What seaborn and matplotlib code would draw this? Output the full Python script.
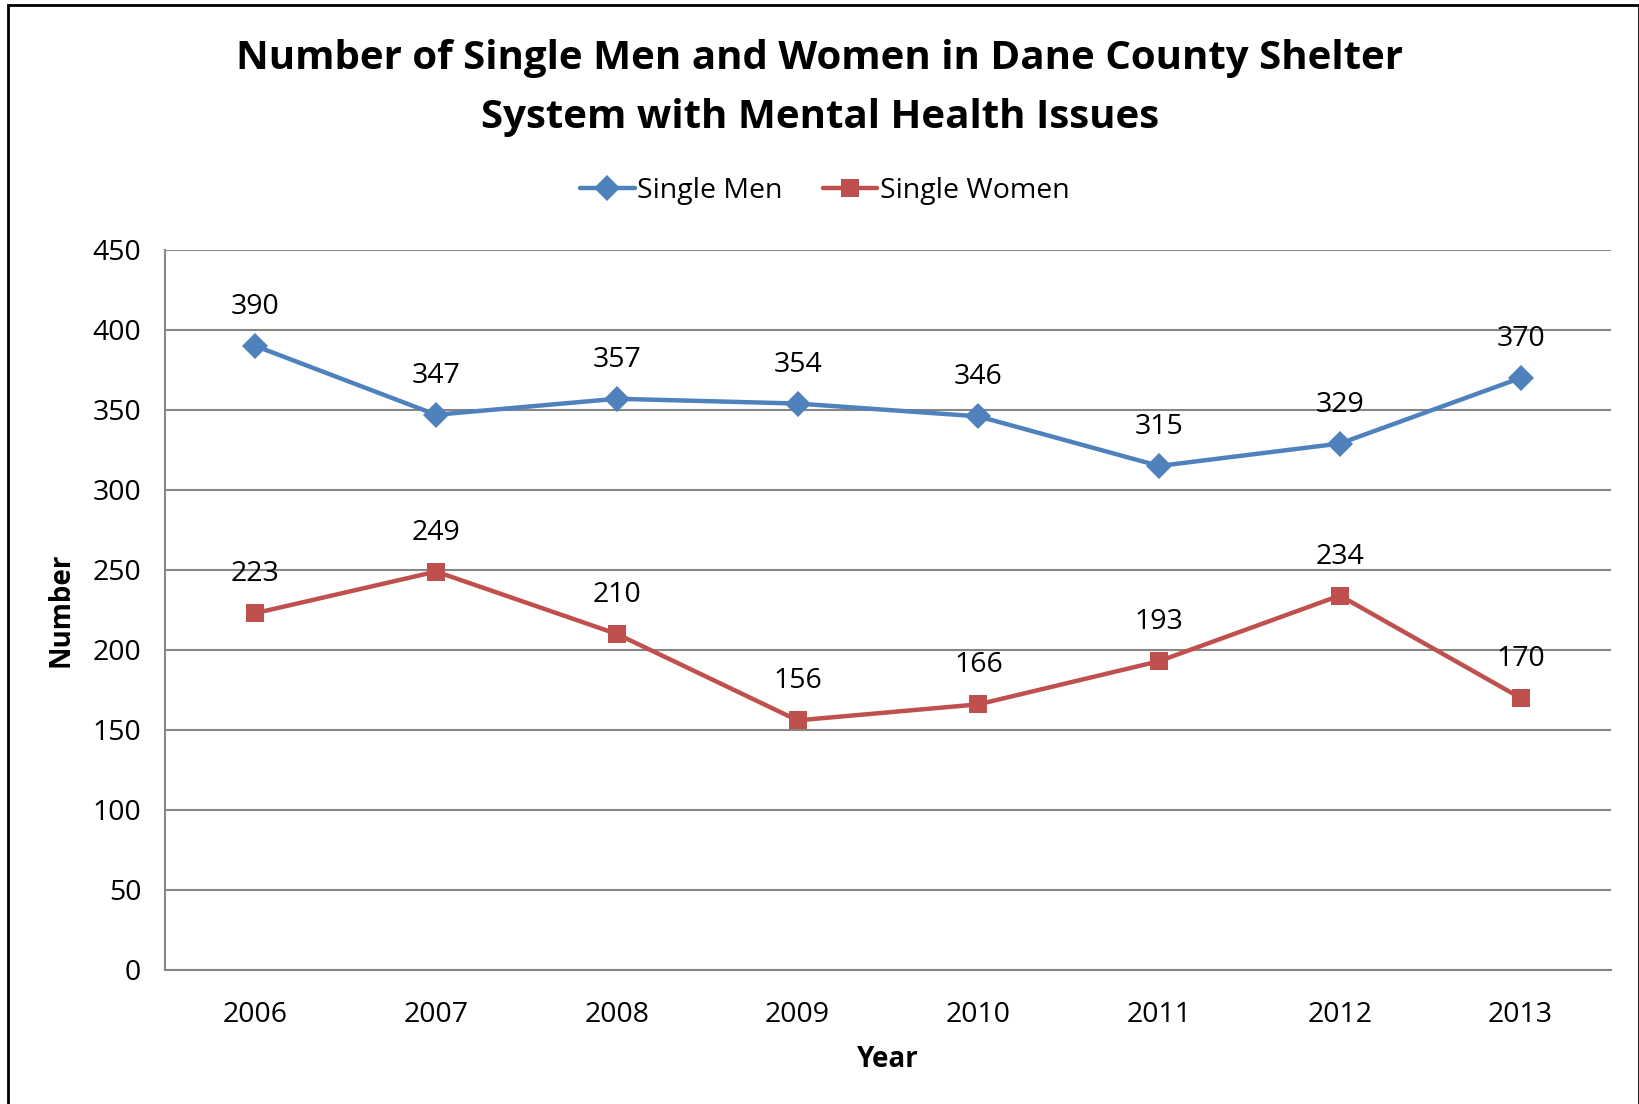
import pandas as pd
import seaborn as sns
import matplotlib.pyplot as plt
from matplotlib.patches import Rectangle

# values
years = [2006, 2007, 2008, 2009, 2010, 2011, 2012, 2013]
single_men = [390, 347, 357, 354, 346, 315, 329, 370]
single_women = [223, 249, 210, 156, 166, 193, 234, 170]
series_names = ["Single Men", "Single Women"]
title_lines = ["Number of Single Men and Women in Dane County Shelter",
               "System with Mental Health Issues"]
colors = {"Single Men": "#4F81BD", "Single Women": "#C0504D"}
markers = {"Single Men": "D", "Single Women": "s"}

df = pd.DataFrame({
    "Year": years * 2,
    "Number": single_men + single_women,
    "Series": [series_names[0]] * len(years) + [series_names[1]] * len(years),
})

sns.set_style("white")
plt.rcParams["font.family"] = ["Open Sans", "DejaVu Sans"]
plt.rcParams["text.color"] = "black"
plt.rcParams["xtick.labelcolor"] = "black"
plt.rcParams["ytick.labelcolor"] = "black"
plt.rcParams["axes.labelcolor"] = "black"

fig = plt.figure(figsize=(16.4, 11.04), dpi=100)
ax = fig.add_axes([0.1006, 0.1214, 0.8817, 0.6522])

sns.lineplot(data=df, x="Year", y="Number", hue="Series", style="Series",
             palette=colors, markers=markers, dashes=False, linewidth=3.2,
             markersize=13, markeredgewidth=0, ax=ax, legend=False)

# data labels above each point
for name, vals in zip(series_names, [single_men, single_women]):
    for yr, v in zip(years, vals):
        ax.annotate(str(v), (yr, v), xytext=(0, 28), textcoords="offset points",
                    ha="center", va="center", fontsize=20.5, color="black")

ax.set_xlim(years[0] - 0.5, years[-1] + 0.5)
ax.set_ylim(0, 450)
ax.set_yticks(range(0, 451, 50))
ax.set_xticks(years)
ax.set_xticklabels([str(y) for y in years])
ax.set_xticks([y - 0.5 for y in years] + [years[-1] + 0.5], minor=True)
ax.tick_params(axis="x", which="major", length=0, pad=22, labelsize=20.5)
ax.tick_params(axis="x", which="minor", length=10, width=1.5, color="#868686", direction="out")
ax.tick_params(axis="y", length=9, width=1.5, color="#868686", direction="out", labelsize=20.5, pad=8)
ax.yaxis.grid(True, color="#868686", linewidth=1.5)
ax.xaxis.grid(False)
for s in ["top", "right"]:
    ax.spines[s].set_visible(False)
for s in ["left", "bottom"]:
    ax.spines[s].set_color("#868686")
    ax.spines[s].set_linewidth(1.5)

ax.set_xlabel("Year", fontsize=20, fontweight="bold", labelpad=12)
ax.set_ylabel("Number", fontsize=20, fontweight="bold", labelpad=12)

fig.text(0.5, 0.947, title_lines[0], ha="center", va="center", fontsize=29, fontweight="bold")
fig.text(0.5, 0.894, title_lines[1], ha="center", va="center", fontsize=29, fontweight="bold")

handles = [plt.Line2D([], [], color=colors[n], marker=markers[n], markersize=13,
                      markeredgewidth=0, linewidth=3.2) for n in series_names]
fig.legend(handles, series_names, loc="center", bbox_to_anchor=(0.503, 0.827), ncol=2,
           frameon=False, fontsize=20.5, handlelength=1.9, handletextpad=0.1, columnspacing=1.4)

fig.add_artist(Rectangle((0.0049, -0.02), 0.9945, 1.0155, transform=fig.transFigure,
                         fill=False, edgecolor="black", linewidth=2))

fig.savefig("out.png", dpi=100)
